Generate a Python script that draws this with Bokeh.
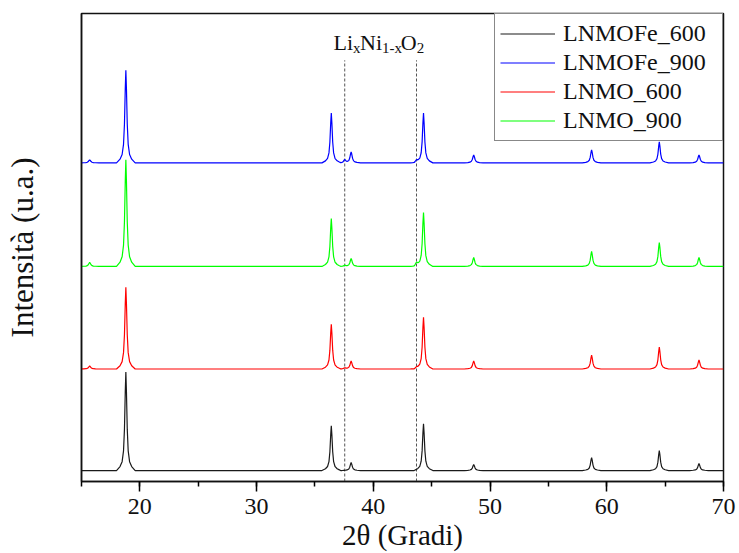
import numpy as np
from bokeh.plotting import figure
from bokeh.models import Range1d, SingleIntervalTicker, FixedTicker, Label, Legend, LegendItem
from bokeh.embed import file_html
from bokeh.resources import INLINE

# ---- data ----
two_theta_range = [15, 70]
peak_pos = [15.7, 18.8, 36.4, 37.55, 38.1, 43.7, 44.3, 48.6, 58.7, 64.5, 67.9]

# peak heights above each pattern's baseline (intensity units)
h_lnmofe_600 = [0, 99, 45, 0, 8, 0, 47, 6, 13, 20, 7]
h_lnmofe_900 = [3, 93, 50, 3, 11, 2, 50, 8, 13, 21, 8]
h_lnmo_600 = [3, 82, 45, 1, 8, 1, 52, 8, 14, 22, 9]
h_lnmo_900 = [4, 107, 48, 1, 8, 3, 54, 9, 15, 24, 9]

# vertical offsets of each pattern
base_lnmofe_600 = 11
base_lnmofe_900 = 320
base_lnmo_600 = 113
base_lnmo_900 = 216

# peak profile (offset in degrees, fraction of peak height)
profile_dx = [-0.8, -0.5, -0.32, -0.2, -0.12, -0.05, 0.0, 0.05, 0.12, 0.2, 0.32, 0.5, 0.8]
profile_f = [0.0, 0.04, 0.09, 0.2, 0.42, 0.8, 1.0, 0.8, 0.42, 0.2, 0.09, 0.04, 0.0]

# reference lines of Li_xNi_(1-x)O_2
ref_lines = [37.55, 43.7]

labels = ["LNMOFe_600", "LNMOFe_900", "LNMO_600", "LNMO_900"]
colors = ["#1a1a1a", "#0000ff", "#ff0000", "#00ff00"]
heights = [h_lnmofe_600, h_lnmofe_900, h_lnmo_600, h_lnmo_900]
bases = [base_lnmofe_600, base_lnmofe_900, base_lnmo_600, base_lnmo_900]

# x points: range ends plus profile points around each peak
xs = [two_theta_range[0], two_theta_range[1]]
for pp in peak_pos:
    xs += [pp + d for d in profile_dx]
xs = np.array(sorted(set(np.round(xs, 4))))
xs = xs[(xs >= two_theta_range[0]) & (xs <= two_theta_range[1])]


def pattern(hs, base):
    y = np.full(len(xs), float(base))
    for pp, h in zip(peak_pos, hs):
        y += h * np.interp(xs - pp, profile_dx, profile_f, left=0, right=0)
    return y


FONT = "Liberation Serif"

p = figure(width=739, height=553, x_range=Range1d(15, 70), y_range=Range1d(0, 470),
           output_backend="svg", toolbar_location=None,
           min_border_left=81, min_border_right=16, min_border_top=13, min_border_bottom=70)
p.xgrid.visible = False
p.ygrid.visible = False
p.outline_line_color = "#111111"
p.outline_line_width = 1.5
p.background_fill_color = "white"
p.border_fill_color = "white"

# dashed reference lines
p.segment(x0=ref_lines, x1=ref_lines, y0=[0] * len(ref_lines), y1=[423] * len(ref_lines),
          line_color="#555555", line_dash="3 2", line_width=1)

renderers = []
for hs, base, c in zip(heights, bases, colors):
    r = p.line(xs, pattern(hs, base), line_color=c, line_width=1.2)
    renderers.append(r)

# x axis
xa = p.xaxis[0]
xa.ticker = SingleIntervalTicker(interval=10, num_minor_ticks=2)
xa.major_tick_out = 10
xa.major_tick_in = 0
xa.minor_tick_out = 5
xa.minor_tick_in = 0
xa.major_tick_line_width = 1.5
xa.minor_tick_line_width = 1.5
xa.axis_line_width = 1.5
xa.axis_line_color = "#111111"
xa.major_label_text_font = FONT
xa.major_label_text_font_size = "24px"
xa.major_label_text_color = "#111111"
xa.major_label_standoff = 7
xa.axis_label = "2θ (Gradi)"
xa.axis_label_text_font = FONT
xa.axis_label_text_font_size = "29px"
xa.axis_label_text_font_style = "normal"
xa.axis_label_text_color = "#111111"
xa.axis_label_standoff = 2

# y axis (no ticks)
ya = p.yaxis[0]
ya.ticker = FixedTicker(ticks=[])
ya.major_label_text_font_size = "0px"
ya.major_tick_out = 0
ya.minor_tick_out = 0
ya.axis_line_width = 1.5
ya.axis_line_color = "#111111"
ya.axis_label = "Intensità (u.a.)"
ya.axis_label_text_font = FONT
ya.axis_label_text_font_size = "31px"
ya.axis_label_text_font_style = "normal"
ya.axis_label_text_color = "#111111"
ya.axis_label_standoff = 42

# Li_xNi_(1-x)O_2 label
x_anchor = 36.59
parts = [("Li", 0, "22px", 441), ("x", 19.6, "15px", 435), ("Ni", 26.6, "22px", 441),
         ("1-x", 48.6, "15px", 435), ("O", 67.3, "22px", 441), ("2", 83.2, "15px", 435)]
for txt, off, fs, yy in parts:
    p.add_layout(Label(x=x_anchor, y=yy, x_offset=off, text=txt, text_font=FONT,
                       text_font_size=fs, text_baseline="alphabetic", text_color="#111111"))

legend = Legend(items=[LegendItem(label=l, renderers=[r]) for l, r in zip(labels, renderers)],
                location="top_right", margin=0, padding=5, spacing=0,
                glyph_width=55, glyph_height=29, label_height=29, label_width=154,
                label_standoff=8, label_text_font=FONT, label_text_font_size="24px",
                label_text_color="#111111",
                border_line_color="#111111", border_line_width=1,
                background_fill_color="white", background_fill_alpha=1)
p.add_layout(legend)

open("out.html", "w").write(file_html(p, INLINE))
